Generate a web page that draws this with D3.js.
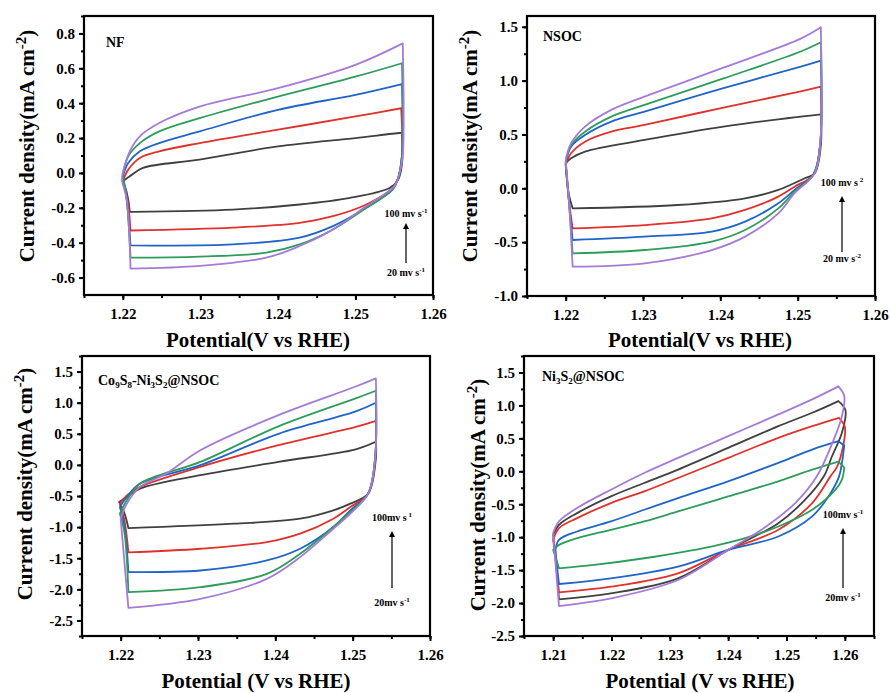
<!DOCTYPE html>
<html>
<head>
<meta charset="utf-8">
<script src="https://cdn.jsdelivr.net/npm/d3@7"></script>
<style>
  body { margin: 0; background: #fff; }
  svg text { font-family: "Liberation Serif", "DejaVu Serif", serif; font-weight: bold; }
</style>
</head>
<body>
<div id="chart"></div>
<script>
// scan rates (mV/s) and line colours, low -> high
var rates = [20, 40, 60, 80, 100];
var colors = ["#404040", "#e0312c", "#1f64c8", "#2e9c5a", "#a67ad8"];

// ---- NF : [potential V, current mA cm-2] ----
var nf20 = [[1.2200,-0.048],[1.2209,-0.019],[1.2226,0.029],[1.2299,0.076],[1.2400,0.152],[1.2500,0.200],[1.2557,0.229],[1.2560,0.229],[1.2560,0.05],[1.2555,-0.04],[1.2544,-0.086],[1.2493,-0.143],[1.2428,-0.181],[1.2342,-0.210],[1.2213,-0.223],[1.2209,-0.223],[1.2207,-0.152],[1.2203,-0.080],[1.2200,-0.048]];
var nf40 = [[1.2200,-0.048],[1.2207,0.019],[1.2222,0.086],[1.2247,0.124],[1.2299,0.171],[1.2400,0.248],[1.2500,0.324],[1.2559,0.371],[1.2560,0.10],[1.2555,-0.03],[1.2548,-0.086],[1.2514,-0.181],[1.2471,-0.248],[1.2428,-0.286],[1.2342,-0.314],[1.2210,-0.330],[1.2206,-0.150],[1.2200,-0.048]];
var nf60 = [[1.2200,-0.020],[1.2207,0.057],[1.2222,0.124],[1.2247,0.171],[1.2299,0.238],[1.2400,0.362],[1.2500,0.448],[1.2560,0.510],[1.2560,0.10],[1.2555,-0.03],[1.2548,-0.095],[1.2514,-0.200],[1.2471,-0.305],[1.2428,-0.371],[1.2342,-0.410],[1.2210,-0.415],[1.2205,-0.150],[1.2200,-0.020]];
var nf80 = [[1.2200,-0.010],[1.2207,0.095],[1.2222,0.171],[1.2247,0.238],[1.2299,0.314],[1.2400,0.438],[1.2500,0.552],[1.2560,0.629],[1.2560,0.10],[1.2555,-0.03],[1.2548,-0.095],[1.2514,-0.200],[1.2471,-0.324],[1.2428,-0.410],[1.2385,-0.457],[1.2299,-0.480],[1.2210,-0.486],[1.2205,-0.150],[1.2200,-0.010]];
var nf100 = [[1.2200,0.000],[1.2209,0.124],[1.2222,0.210],[1.2247,0.286],[1.2299,0.380],[1.2400,0.486],[1.2500,0.620],[1.2561,0.743],[1.2561,0.10],[1.2557,0.00],[1.2550,-0.076],[1.2514,-0.190],[1.2471,-0.324],[1.2428,-0.419],[1.2385,-0.486],[1.2299,-0.533],[1.2210,-0.549],[1.2205,-0.150],[1.2199,-0.040],[1.2200,0.000]];

// ---- NSOC ----
var ns20 = [[1.2200,0.232],[1.2207,0.279],[1.2225,0.341],[1.2302,0.449],[1.2404,0.573],[1.2504,0.666],[1.2530,0.687],[1.2530,0.40],[1.2522,0.139],[1.2509,0.093],[1.2475,-0.015],[1.2432,-0.093],[1.2345,-0.155],[1.2209,-0.186],[1.2204,-0.05],[1.2200,0.232]];
var ns40 = [[1.2200,0.217],[1.2207,0.325],[1.2225,0.433],[1.2259,0.526],[1.2302,0.588],[1.2404,0.750],[1.2504,0.900],[1.2530,0.944],[1.2529,0.40],[1.2520,0.124],[1.2496,0.015],[1.2475,-0.077],[1.2432,-0.201],[1.2389,-0.279],[1.2302,-0.341],[1.2209,-0.372],[1.2204,-0.10],[1.2200,0.217]];
var ns60 = [[1.2200,0.232],[1.2207,0.387],[1.2225,0.495],[1.2259,0.619],[1.2302,0.712],[1.2404,0.930],[1.2504,1.130],[1.2530,1.186],[1.2529,0.40],[1.2520,0.124],[1.2496,-0.015],[1.2475,-0.139],[1.2432,-0.310],[1.2389,-0.402],[1.2302,-0.449],[1.2209,-0.480],[1.2204,-0.10],[1.2200,0.232]];
var ns80 = [[1.2200,0.248],[1.2207,0.402],[1.2225,0.526],[1.2259,0.666],[1.2302,0.774],[1.2404,1.020],[1.2504,1.270],[1.2530,1.356],[1.2529,0.40],[1.2520,0.124],[1.2496,-0.031],[1.2475,-0.186],[1.2432,-0.387],[1.2389,-0.495],[1.2302,-0.573],[1.2209,-0.604],[1.2204,-0.10],[1.2200,0.248]];
var ns100 = [[1.2200,0.263],[1.2207,0.418],[1.2225,0.573],[1.2259,0.728],[1.2302,0.851],[1.2404,1.120],[1.2504,1.390],[1.2530,1.495],[1.2529,0.40],[1.2522,0.139],[1.2496,-0.046],[1.2475,-0.232],[1.2432,-0.449],[1.2389,-0.573],[1.2302,-0.697],[1.2209,-0.728],[1.2205,-0.20],[1.2200,0.263]];

// ---- Co9S8-Ni3S2@NSOC ----
var co20 = [[1.2198,-0.596],[1.2208,-0.516],[1.2225,-0.381],[1.2303,-0.166],[1.2404,0.048],[1.2504,0.250],[1.2530,0.371],[1.2530,0.10],[1.2520,-0.462],[1.2497,-0.623],[1.2475,-0.730],[1.2432,-0.865],[1.2346,-0.945],[1.2210,-1.015],[1.2205,-0.784],[1.2198,-0.596]];
var co40 = [[1.2199,-0.623],[1.2208,-0.489],[1.2225,-0.354],[1.2303,-0.032],[1.2404,0.317],[1.2504,0.610],[1.2530,0.709],[1.2529,0.10],[1.2520,-0.462],[1.2497,-0.677],[1.2475,-0.865],[1.2432,-1.106],[1.2389,-1.241],[1.2303,-1.348],[1.2210,-1.407],[1.2205,-0.900],[1.2199,-0.623]];
var co60 = [[1.2199,-0.677],[1.2208,-0.516],[1.2225,-0.301],[1.2303,-0.005],[1.2404,0.500],[1.2504,0.860],[1.2530,0.999],[1.2529,0.10],[1.2520,-0.462],[1.2497,-0.730],[1.2475,-0.999],[1.2432,-1.348],[1.2389,-1.536],[1.2303,-1.697],[1.2210,-1.724],[1.2205,-1.000],[1.2199,-0.677]];
var co80 = [[1.2199,-0.784],[1.2208,-0.569],[1.2225,-0.301],[1.2303,0.048],[1.2404,0.620],[1.2504,1.070],[1.2530,1.192],[1.2529,0.10],[1.2520,-0.462],[1.2497,-0.757],[1.2475,-0.999],[1.2432,-1.429],[1.2389,-1.751],[1.2303,-1.966],[1.2210,-2.046],[1.2205,-1.100],[1.2199,-0.784]];
var co100 = [[1.2200,-0.865],[1.2208,-0.623],[1.2225,-0.354],[1.2259,-0.140],[1.2303,0.236],[1.2404,0.800],[1.2504,1.260],[1.2530,1.391],[1.2529,0.10],[1.2520,-0.462],[1.2497,-0.784],[1.2475,-1.026],[1.2432,-1.482],[1.2389,-1.831],[1.2303,-2.154],[1.2210,-2.299],[1.2200,-0.865]];

// ---- Ni3S2@NSOC ----
var ni20 = [[1.2100,-0.964],[1.2110,-0.812],[1.2141,-0.635],[1.2199,-0.381],[1.2256,-0.178],[1.2314,0.025],[1.2400,0.355],[1.2486,0.685],[1.2544,0.888],[1.2589,1.066],[1.2601,0.929],[1.2595,0.584],[1.2578,0.228],[1.2564,-0.076],[1.2532,-0.431],[1.2486,-0.787],[1.2400,-1.193],[1.2314,-1.624],[1.2199,-1.853],[1.2110,-1.944],[1.2105,-1.400],[1.2100,-0.964]];
var ni40 = [[1.2100,-1.041],[1.2110,-0.863],[1.2141,-0.711],[1.2199,-0.482],[1.2256,-0.305],[1.2314,-0.102],[1.2400,0.203],[1.2486,0.508],[1.2544,0.685],[1.2590,0.812],[1.2600,0.675],[1.2597,0.381],[1.2587,0.076],[1.2575,-0.081],[1.2544,-0.482],[1.2486,-0.888],[1.2400,-1.193],[1.2314,-1.548],[1.2199,-1.751],[1.2110,-1.838],[1.2105,-1.400],[1.2100,-1.041]];
var ni60 = [[1.2104,-1.193],[1.2110,-1.041],[1.2141,-0.914],[1.2199,-0.761],[1.2256,-0.584],[1.2314,-0.406],[1.2400,-0.152],[1.2486,0.127],[1.2544,0.330],[1.2589,0.457],[1.2599,0.391],[1.2595,0.127],[1.2590,-0.081],[1.2572,-0.381],[1.2544,-0.685],[1.2486,-0.990],[1.2400,-1.193],[1.2314,-1.447],[1.2199,-1.624],[1.2110,-1.711],[1.2106,-1.400],[1.2104,-1.193]];
var ni80 = [[1.2100,-1.193],[1.2110,-1.117],[1.2141,-1.015],[1.2199,-0.888],[1.2256,-0.761],[1.2314,-0.609],[1.2400,-0.381],[1.2486,-0.152],[1.2544,0.025],[1.2589,0.147],[1.2599,0.056],[1.2595,-0.127],[1.2584,-0.279],[1.2544,-0.584],[1.2486,-0.838],[1.2429,-1.015],[1.2371,-1.142],[1.2256,-1.320],[1.2170,-1.421],[1.2110,-1.472],[1.2104,-1.300],[1.2100,-1.193]];
var ni100 = [[1.2100,-0.939],[1.2110,-0.761],[1.2141,-0.558],[1.2199,-0.279],[1.2256,-0.025],[1.2314,0.203],[1.2400,0.533],[1.2486,0.863],[1.2544,1.091],[1.2589,1.289],[1.2599,1.142],[1.2595,0.838],[1.2581,0.482],[1.2552,-0.076],[1.2515,-0.482],[1.2457,-0.888],[1.2400,-1.193],[1.2314,-1.650],[1.2199,-1.929],[1.2110,-2.046],[1.2105,-1.500],[1.2100,-0.939]];

var svg = d3.select("#chart").append("svg")
	.attr("width", 890)
	.attr("height", 693)
	.style("font-family", "'Liberation Serif', 'DejaVu Serif', serif");

var panels = [
	{ left: 84, top: 16, right: 433, bottom: 295, xdom: [1.215, 1.26], ydom: [-0.7, 0.9],
	  xmaj: [1.22, 1.23, 1.24, 1.25, 1.26], ymaj: [-0.6, -0.4, -0.2, 0, 0.2, 0.4, 0.6, 0.8], ystep: 0.1,
	  curves: [nf20, nf40, nf60, nf80, nf100], label: [["NF", null]], lab: [106, 47],
	  xtitle: "Potential(V vs RHE)", xt: [258, 347], yt: [27, 146],
	  ann: { x: 406, top: "100 mv s", bot: "20 mv s", sup1: "-1", sup2: "-1", ty: 217, by: 276, a0: 263, a1: 222 } },
	{ left: 527, top: 16, right: 875, bottom: 296, xdom: [1.215, 1.26], ydom: [-1.0, 1.6],
	  xmaj: [1.22, 1.23, 1.24, 1.25, 1.26], ymaj: [-1, -0.5, 0, 0.5, 1, 1.5], ystep: 0.25,
	  curves: [ns20, ns40, ns60, ns80, ns100], label: [["NSOC", null]], lab: [543, 41],
	  xtitle: "Potential(V vs RHE)", xt: [700, 347], yt: [470, 146],
	  ann: { x: 842, top: "100 mv s", bot: "20 mv s", sup1: " 2", sup2: "-2", ty: 186, by: 262, a0: 252, a1: 195 } },
	{ left: 82, top: 356, right: 430, bottom: 636, xdom: [1.215, 1.26], ydom: [-2.75, 1.75],
	  xmaj: [1.22, 1.23, 1.24, 1.25, 1.26], ymaj: [-2.5, -2, -1.5, -1, -0.5, 0, 0.5, 1, 1.5], ystep: 0.25,
	  curves: [co20, co40, co60, co80, co100],
	  label: [["Co", null], ["9", "sub"], ["S", null], ["8", "sub"], ["-Ni", null], ["3", "sub"], ["S", null], ["2", "sub"], ["@NSOC", null]], lab: [98, 385],
	  xtitle: "Potential (V vs RHE)", xt: [256, 688], yt: [25, 484],
	  ann: { x: 392, top: "100mv s", bot: "20mv s", sup1: " 1", sup2: "-1", ty: 521, by: 606, a0: 588, a1: 530 } },
	{ left: 524, top: 356, right: 874, bottom: 636, xdom: [1.205, 1.265], ydom: [-2.5, 1.75],
	  xmaj: [1.21, 1.22, 1.23, 1.24, 1.25, 1.26], ymaj: [-2.5, -2, -1.5, -1, -0.5, 0, 0.5, 1, 1.5], ystep: 0.25,
	  curves: [ni20, ni40, ni60, ni80, ni100],
	  label: [["Ni", null], ["3", "sub"], ["S", null], ["2", "sub"], ["@NSOC", null]], lab: [542, 381],
	  xtitle: "Potential (V vs RHE)", xt: [700, 688], yt: [478, 495],
	  ann: { x: 843, top: "100mv s", bot: "20mv s", sup1: "-1", sup2: "-1", ty: 518, by: 601, a0: 588, a1: 527 } }
];

svg.append("defs").append("marker")
	.attr("id", "head")
	.attr("viewBox", "0 0 10 10")
	.attr("refX", 5).attr("refY", 5)
	.attr("markerWidth", 5).attr("markerHeight", 7)
	.attr("orient", "auto")
	.append("path")
	.attr("d", "M0,0L10,5L0,10Z")
	.attr("fill", "#000");

// break a loop into smooth runs wherever it turns sharply (in pixel space)
function splitRuns(pts) {
	var runs = [], cur = [pts[0]];
	for (var i = 1; i < pts.length; i++) {
		cur.push(pts[i]);
		if (i < pts.length - 1) {
			var a = Math.atan2(pts[i][1] - pts[i-1][1], pts[i][0] - pts[i-1][0]);
			var b = Math.atan2(pts[i+1][1] - pts[i][1], pts[i+1][0] - pts[i][0]);
			var t = Math.abs(b - a);
			if (t > Math.PI) t = 2 * Math.PI - t;
			if (t > 0.9) { runs.push(cur); cur = [pts[i]]; }
		}
	}
	runs.push(cur);
	return runs;
}

panels.forEach(function(p) {
	var x = d3.scaleLinear().domain(p.xdom).range([p.left, p.right]);
	var y = d3.scaleLinear().domain(p.ydom).range([p.bottom, p.top]);
	var g = svg.append("g");

	// minor ticks
	var xmin = d3.range(p.xdom[0], p.xdom[1] + 1e-9, 0.005).map(d => +d.toFixed(4));
	var ymin = d3.range(Math.ceil(p.ydom[0] / p.ystep) * p.ystep, p.ydom[1] + 1e-9, p.ystep).map(d => +d.toFixed(3));

	g.append("g")
		.attr("transform", "translate(0," + p.bottom + ")")
		.call(d3.axisBottom(x).tickValues(xmin).tickSize(3).tickFormat(""))
		.call(a => a.select(".domain").remove());
	g.append("g")
		.attr("transform", "translate(" + p.left + ",0)")
		.call(d3.axisLeft(y).tickValues(ymin).tickSize(3).tickFormat(""))
		.call(a => a.select(".domain").remove());

	var xa = g.append("g")
		.attr("transform", "translate(0," + p.bottom + ")")
		.call(d3.axisBottom(x).tickValues(p.xmaj).tickSize(5).tickPadding(8).tickFormat(d => d.toFixed(2)));
	var ya = g.append("g")
		.attr("transform", "translate(" + p.left + ",0)")
		.call(d3.axisLeft(y).tickValues(p.ymaj).tickSize(5).tickPadding(4).tickFormat(d => d.toFixed(1)));
	[xa, ya].forEach(function(a) {
		a.attr("font-family", null).attr("font-size", null);
		a.select(".domain").remove();
		a.selectAll("text")
			.attr("font-size", 15)
			.attr("fill", "#000");
	});
	g.selectAll(".tick line").attr("stroke", "#000").attr("stroke-width", 2);

	var line = d3.line().curve(d3.curveCatmullRom.alpha(0.5));

	g.selectAll(".cv")
		.data(p.curves)
		.enter().append("path")
		.attr("class", "cv")
		.attr("d", function(d) {
			var px = d.map(v => [x(v[0]), y(v[1])]);
			return splitRuns(px).map(r => line(r)).join("");
		})
		.attr("fill", "none")
		.attr("stroke", (d, i) => colors[i])
		.attr("stroke-width", 1.8)
		.attr("stroke-linejoin", "round")
		.attr("stroke-linecap", "round");

	// frame
	g.append("rect")
		.attr("x", p.left).attr("y", p.top)
		.attr("width", p.right - p.left)
		.attr("height", p.bottom - p.top)
		.attr("fill", "none")
		.attr("stroke", "#000")
		.attr("stroke-width", 2.2);

	// sample label
	var lt = g.append("text")
		.attr("x", p.lab[0]).attr("y", p.lab[1])
		.attr("font-size", 14);
	p.label.forEach(function(s) {
		var t = lt.append("tspan").text(s[0]);
		if (s[1] === "sub") t.attr("font-size", 9).attr("dy", 3);
		else if (lt.selectAll("tspan").size() > 1) t.attr("dy", -3);
	});

	// scan-rate arrow
	var a = p.ann;
	var at = g.append("text").attr("x", a.x).attr("y", a.ty).attr("text-anchor", "middle").attr("font-size", 10);
	at.append("tspan").text(a.top);
	at.append("tspan").text(a.sup1).attr("font-size", 7).attr("dy", -4);
	var ab = g.append("text").attr("x", a.x).attr("y", a.by).attr("text-anchor", "middle").attr("font-size", 10);
	ab.append("tspan").text(a.bot);
	ab.append("tspan").text(a.sup2).attr("font-size", 7).attr("dy", -4);
	g.append("line")
		.attr("x1", a.x).attr("x2", a.x)
		.attr("y1", a.a0).attr("y2", a.a1 + 4)
		.attr("stroke", "#000").attr("stroke-width", 1.2)
		.attr("marker-end", "url(#head)");

	// axis titles
	g.append("text")
		.attr("x", p.xt[0]).attr("y", p.xt[1])
		.attr("text-anchor", "middle")
		.attr("font-size", 21)
		.text(p.xtitle);
	var yt = g.append("text")
		.attr("transform", "translate(" + p.yt[0] + "," + p.yt[1] + ") rotate(-90)")
		.attr("text-anchor", "middle")
		.attr("dy", "0.35em")
		.attr("font-size", 21);
	yt.append("tspan").text("Current density(mA cm");
	yt.append("tspan").text("-2").attr("font-size", 15).attr("dy", -8);
	yt.append("tspan").text(")").attr("dy", 8);
});
</script>
</body>
</html>
